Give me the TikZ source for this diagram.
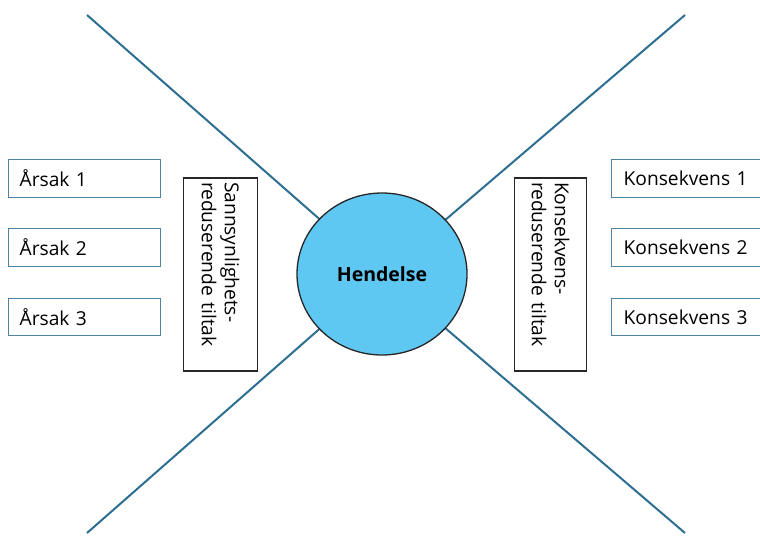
\documentclass[tikz,border=0pt]{standalone}
\usepackage{fontspec}
\setmainfont{Open Sans}
\usetikzlibrary{shapes.geometric}
\definecolor{linecol}{RGB}{46,110,145}
\definecolor{boxcol}{RGB}{80,130,165}
\definecolor{circfill}{RGB}{95,200,242}
\begin{document}
\begin{tikzpicture}[x=1pt,y=-1pt,
  bowline/.style={draw=linecol,line width=2pt},
  itembox/.style={draw=boxcol,line width=1.3pt,minimum height=38pt,inner xsep=11pt,
    align=left,anchor=north west,font=\fontsize{19.2}{22}\selectfont},
  measurebox/.style={draw=black!85,line width=1.2pt,rotate=-90,minimum height=74pt,
    minimum width=193pt,align=left,font=\fontsize{19.2}{23}\selectfont}]
\useasboundingbox (0,0) rectangle (760,536);
\clip (0,0) rectangle (760,536);
\fill[white] (0,0) rectangle (760,536);
\coordinate (c) at (382,274);
\coordinate (tl) at (87,15);
\coordinate (tr) at (685,15);
\coordinate (bl) at (87,533);
\coordinate (br) at (685,533);
\draw[bowline] (tl) -- (c);
\draw[bowline] (tr) -- (c);
\draw[bowline] (bl) -- (c);
\draw[bowline] (br) -- (c);
\node[draw=black!85,line width=1.3pt,fill=circfill,ellipse,minimum width=170pt,minimum height=162pt,
  font=\bfseries\fontsize{19.5}{22}\selectfont,inner sep=0pt] (h) at (c) {Hendelse};
\node[itembox,text width=130pt] (a1) at (8,159) {Årsak 1};
\node[itembox,text width=130pt] (a2) at (8,228) {Årsak 2};
\node[itembox,text width=130pt,minimum height=37pt] (a3) at (8,298) {Årsak 3};
\node[itembox,text width=140pt,inner xsep=12pt] (k1) at (611,159) {Konsekvens 1};
\node[itembox,text width=140pt,inner xsep=12pt] (k2) at (611,228) {Konsekvens 2};
\node[itembox,text width=140pt,inner xsep=12pt,minimum height=37pt] (k3) at (611,298) {Konsekvens 3};
\node[measurebox,text width=185pt] (sr) at (220.5,274.5) {Sannsynlighets-\\reduserende tiltak};
\node[measurebox,text width=185pt,minimum height=72pt] (kr) at (550.5,274.5) {Konsekvens-\\reduserende tiltak};
\end{tikzpicture}
\end{document}
